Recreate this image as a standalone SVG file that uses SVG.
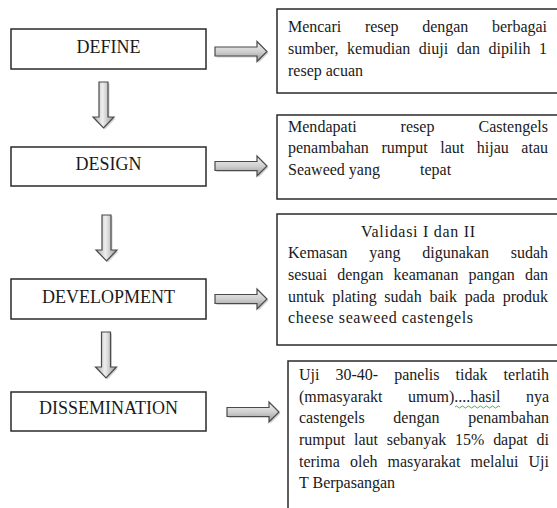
<svg xmlns="http://www.w3.org/2000/svg" width="557" height="508" viewBox="0 0 557 508">
<style>
.bg{fill:#ffffff}
.box{fill:#ffffff;stroke:#2a2a2a;stroke-width:1.5}
.lbl{font-family:"Liberation Serif","Times New Roman",serif;font-size:18px;fill:#1a1a1a;text-anchor:middle}
.txt{font-family:"Liberation Serif","Times New Roman",serif;font-size:16px;fill:#1a1a1a}
.ar{fill:url(#gR);stroke:#4a4a4a;stroke-width:1.2;stroke-linejoin:miter}
.ad{fill:url(#gD);stroke:#4a4a4a;stroke-width:1.2;stroke-linejoin:miter}
.sh{fill:#9a9a9a;opacity:0.45}
</style>
<defs>
<linearGradient id="gR" x1="0" y1="0" x2="0" y2="1">
<stop offset="0" stop-color="#f2f2f2"/>
<stop offset="0.5" stop-color="#d0d0d0"/>
<stop offset="1" stop-color="#969696"/>
</linearGradient>
<linearGradient id="gD" x1="0" y1="0" x2="1" y2="0">
<stop offset="0" stop-color="#a8a8a8"/>
<stop offset="0.45" stop-color="#eeeeee"/>
<stop offset="1" stop-color="#969696"/>
</linearGradient>
<path id="arrR" d="M0,-4.5 H42 V-10 L52,0 L42,10 V4.5 H0 Z"/>
<path id="arrD" d="M-4.5,0 V35 H-10.5 L0,46 L10.5,35 H4.5 V0 Z"/>
</defs>
<rect class="bg" x="0" y="0" width="557" height="508"/>

<g id="connectors">
<g transform="translate(216.5,53)"><use href="#arrR" class="sh"/></g>
<g transform="translate(215,51.5)"><use href="#arrR" class="ar"/></g>
<g transform="translate(216.5,167.5)"><use href="#arrR" class="sh"/></g>
<g transform="translate(215,166)"><use href="#arrR" class="ar"/></g>
<g transform="translate(216.5,300.5)"><use href="#arrR" class="sh"/></g>
<g transform="translate(215,299)"><use href="#arrR" class="ar"/></g>
<g transform="translate(228.5,413.5)"><use href="#arrR" class="sh"/></g>
<g transform="translate(227,412)"><use href="#arrR" class="ar"/></g>
<g transform="translate(105,83.5)"><use href="#arrD" class="sh"/></g>
<g transform="translate(103.5,82)"><use href="#arrD" class="ad"/></g>
<g transform="translate(108,216.5)"><use href="#arrD" class="sh"/></g>
<g transform="translate(106.5,215)"><use href="#arrD" class="ad"/></g>
<g transform="translate(107.5,333.5)"><use href="#arrD" class="sh"/></g>
<g transform="translate(106,332)"><use href="#arrD" class="ad"/></g>
</g>

<g id="define">
<rect class="box" x="11" y="29" width="195" height="40"/>
<text class="lbl" x="108.5" y="53">DEFINE</text>
</g>
<g id="design">
<rect class="box" x="11" y="147" width="195" height="39"/>
<text class="lbl" x="108.5" y="170">DESIGN</text>
</g>
<g id="development">
<rect class="box" x="11" y="279" width="195" height="40"/>
<text class="lbl" x="108.5" y="303">DEVELOPMENT</text>
</g>
<g id="dissemination">
<rect class="box" x="11" y="392" width="195" height="39"/>
<text class="lbl" x="108.5" y="414">DISSEMINATION</text>
</g>

<g id="define-note">
<rect class="box" x="277" y="9" width="290" height="84"/>
<text class="txt" x="288" y="32" word-spacing="19.7" textLength="259" lengthAdjust="spacing">Mencari resep dengan berbagai</text>
<text class="txt" x="288" y="54" word-spacing="4.6" textLength="259" lengthAdjust="spacing">sumber, kemudian diuji dan dipilih 1</text>
<text class="txt" x="288" y="76">resep acuan</text>
</g>
<g id="design-note">
<rect class="box" x="277" y="115" width="290" height="84"/>
<text class="txt" x="288" y="132" word-spacing="40" textLength="260" lengthAdjust="spacing">Mendapati resep Castengels</text>
<text class="txt" x="288" y="153" word-spacing="8.6" textLength="260" lengthAdjust="spacing">penambahan rumput laut hijau atau</text>
<text class="txt" x="288" y="175">Seaweed yang <tspan x="420">tepat</tspan></text>
</g>
<g id="development-note">
<rect class="box" x="277" y="214" width="290" height="131"/>
<text class="txt" x="361" y="237" textLength="114" lengthAdjust="spacing">Validasi I dan II</text>
<text class="txt" x="288" y="258" word-spacing="17.8" textLength="260" lengthAdjust="spacing">Kemasan yang digunakan sudah</text>
<text class="txt" x="288" y="280" word-spacing="6.1" textLength="260" lengthAdjust="spacing">sesuai dengan keamanan pangan dan</text>
<text class="txt" x="288" y="302" word-spacing="3.7" textLength="260" lengthAdjust="spacing">untuk plating sudah baik pada produk</text>
<text class="txt" x="288" y="323" textLength="185" lengthAdjust="spacing">cheese seaweed castengels</text>
</g>
<g id="dissemination-note">
<rect class="box" x="288" y="361" width="290" height="160"/>
<text class="txt" x="299" y="380" word-spacing="12" textLength="250" lengthAdjust="spacing">Uji 30-40- panelis tidak terlatih</text>
<text class="txt" x="299" y="402" word-spacing="21.5" textLength="250" lengthAdjust="spacing">(mmasyarakt umum)....hasil nya</text>
<path d="M455,407 q1.5,-2 3,0 t3,0 t3,0 t3,0 t3,0 t3,0 t3,0 t3,0 t3,0 t3,0 t3,0 t3,0 t3,0 t3,0 t3,0" fill="none" stroke="#3aa845" stroke-width="0.9"/>
<text class="txt" x="299" y="423" word-spacing="24.6" textLength="250" lengthAdjust="spacing">castengels dengan penambahan</text>
<text class="txt" x="299" y="445" word-spacing="4.8" textLength="250" lengthAdjust="spacing">rumput laut sebanyak 15% dapat di</text>
<text class="txt" x="299" y="467" word-spacing="6.1" textLength="250" lengthAdjust="spacing">terima oleh masyarakat melalui Uji</text>
<text class="txt" x="299" y="488">T Berpasangan</text>
</g>
</svg>
